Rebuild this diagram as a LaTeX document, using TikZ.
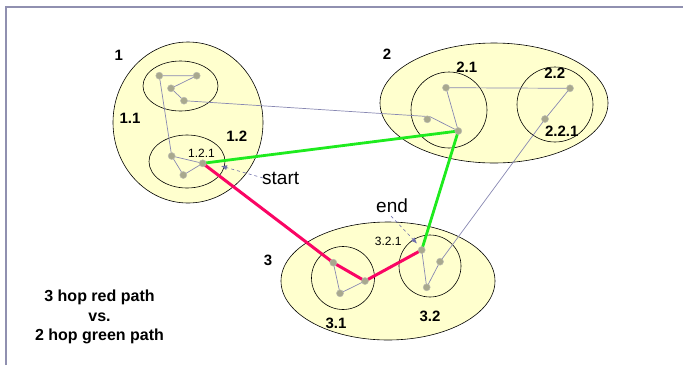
\documentclass[tikz,border=0pt]{standalone}
\usepackage{fontspec}
\setmainfont{Liberation Sans}
\usetikzlibrary{shapes.geometric,arrows.meta}
\pgfdeclarelayer{bg}
\pgfdeclarelayer{edges}
\pgfdeclarelayer{paths}
\pgfsetlayers{bg,edges,paths,main}
\definecolor{clfill}{RGB}{255,255,206}
\definecolor{ptfill}{RGB}{168,168,142}
\definecolor{ptdraw}{RGB}{188,188,176}
\definecolor{thin}{RGB}{136,136,178}
\definecolor{redpath}{RGB}{250,5,100}
\definecolor{greenpath}{RGB}{30,235,30}
\definecolor{framec}{RGB}{144,144,176}
\definecolor{dashc}{RGB}{110,110,170}
\tikzset{
  cluster/.style={ellipse, draw=black, line width=0.6pt, fill=clfill, inner sep=0pt},
  pt/.style={circle, fill=ptfill, draw=ptdraw, line width=0.5pt, minimum size=7pt, inner sep=0pt},
  link/.style={draw=thin, line width=0.7pt},
  redp/.style={draw=redpath, line width=3pt, line join=miter},
  greenp/.style={draw=greenpath, line width=2.8pt, line join=miter},
  blab/.style={font=\bfseries\fontsize{15}{18}\selectfont, inner sep=0pt},
  slab/.style={font=\fontsize{12}{14}\selectfont, inner sep=0pt},
  llab/.style={font=\fontsize{19}{22}\selectfont, inner sep=0pt},
  pointer/.style={draw=dashc, dashed, line width=0.6pt, -{Latex[length=6pt,width=5pt]}},
}
\begin{document}
\begin{tikzpicture}[x=1pt,y=-1pt]
\useasboundingbox (0,0) rectangle (683,365);
% frame
\draw[framec, line width=1.2pt] (6,365) -- (6,7) -- (683,7);

% clusters
\begin{pgfonlayer}{bg}
\node[cluster, minimum width=150pt, minimum height=161pt] (c1) at (188,122.5) {};
\node[cluster, minimum width=75pt, minimum height=50pt] (c11) at (180.5,86) {};
\node[cluster, minimum width=76pt, minimum height=53pt] (c12) at (187,161.5) {};
\node[cluster, minimum width=228pt, minimum height=120pt] (c2) at (494,103) {};
\node[cluster, minimum width=76pt, minimum height=76pt] (c21) at (449,110) {};
\node[cluster, minimum width=76pt, minimum height=75pt] (c22) at (555,104.5) {};
\node[cluster, minimum width=214pt, minimum height=118pt] (c3) at (388,281) {};
\node[cluster, minimum width=63pt, minimum height=63pt] (c31) at (343,278) {};
\node[cluster, minimum width=62pt, minimum height=62pt] (c32) at (430,266) {};
\end{pgfonlayer}

% routers
\node[pt] (A) at (159.3,75.7) {};
\node[pt] (B) at (196.7,75.7) {};
\node[pt] (C) at (171,88.3) {};
\node[pt] (D) at (184,100.7) {};
\node[pt] (E) at (171.7,156) {};
\node[pt] (F) at (202.7,163.3) {};
\node[pt] (G) at (183.3,175) {};
\node[pt] (H) at (446,87.7) {};
\node[pt] (I) at (427.3,119.3) {};
\node[pt] (J) at (458.3,131) {};
\node[pt] (K) at (570,88.3) {};
\node[pt] (L) at (545,119) {};
\node[pt] (N) at (333.3,262.7) {};
\node[pt] (O) at (365,281) {};
\node[pt] (P) at (340,293.3) {};
\node[pt] (Q) at (421.7,250) {};
\node[pt] (M) at (440,261.7) {};
\node[pt] (R) at (426.7,287.3) {};

% thin links
\begin{pgfonlayer}{edges}
\draw[link] (A.center) -- (B.center) -- (C.center) -- (D.center);
\draw[link] (A.center) -- (E.center) -- (F.center) -- (G.center) -- (E.center);
\draw[link] (D.center) -- (I.45) -- (J.center) -- (H.center) -- (K.center) -- (L.center) -- (M.center);
\draw[link] (N.center) -- (P.center) -- (O.center);
\draw[link] (Q.center) -- (R.center) -- (M.center);
\end{pgfonlayer}

% paths
\begin{pgfonlayer}{paths}
\draw[greenp] (F.center) -- (J.center) -- (Q.center);
\draw[redp] (F.center) -- (N.center) -- (O.center) -- (Q.center);
\end{pgfonlayer}

% labels
\node[blab] (l1) at (118.7,55) {1};
\node[blab] (l11) at (130,118.3) {1.1};
\node[blab] (l12) at (236.7,136) {1.2};
\node[slab] (l121) at (201.5,153) {1.2.1};
\node[blab] (l2) at (387,54) {2};
\node[blab] (l21) at (466.7,67.3) {2.1};
\node[blab] (l22) at (554.7,73.3) {2.2};
\node[blab] (l221) at (561.7,131.7) {2.2.1};
\node[blab] (l3) at (268,260) {3};
\node[blab] (l31) at (336,323.3) {3.1};
\node[blab] (l32) at (430,316.7) {3.2};
\node[slab] (l321) at (388.3,241.7) {3.2.1};
\node[llab, anchor=base west] (start) at (262,184) {start};
\node[llab, anchor=base west] (end) at (376,212.7) {end};
\node[font=\bfseries\fontsize{16}{19.6}\selectfont, align=center, inner sep=0pt, anchor=north] (note) at (99.5,289.7)
  {3 hop red path\\vs.\\2 hop green path};

% pointers
\coordinate (sp) at (221,166);
\coordinate (ep) at (417,243.5);
\draw[pointer] ([xshift=1pt]start.west) -- (sp);
\draw[pointer] ([xshift=-1pt,yshift=-3pt]end.south) -- (ep);
\end{tikzpicture}
\end{document}
